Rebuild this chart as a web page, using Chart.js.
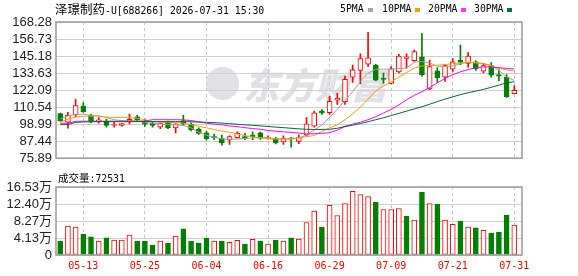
<!DOCTYPE html>
<html><head><meta charset="utf-8">
<script src="https://cdn.jsdelivr.net/npm/chart.js@4.4.1/dist/chart.umd.min.js"></script>
<style>
html,body{margin:0;padding:0;background:#fff;}
#wrap{position:relative;width:578px;height:276px;overflow:hidden;background:#fff;}
canvas{position:absolute;left:0;z-index:2;}
#c1{top:0;}
#c2{top:170px;}
.txt{position:absolute;white-space:nowrap;z-index:3;color:#000;}
.cjk{font-family:"Noto Sans CJK SC";}
.mono{font-family:"DejaVu Sans Mono";}
#title{left:55px;top:0px;line-height:18px;}
#title .cjk{font-size:12.5px;}
#title .mono{font-size:9.8px;}
.lg{position:absolute;top:0;line-height:18px;font-family:"DejaVu Sans Mono";font-size:9.8px;z-index:3;white-space:nowrap;}
.sq{position:absolute;top:8px;width:5px;height:4px;z-index:3;}
#vl{left:58px;top:169px;line-height:16px;}
#vl .cjk{font-size:10.5px;}
#vl .mono{font-size:9.8px;}
#wm{position:absolute;left:206px;top:60px;z-index:1;color:#e0e0e5;white-space:nowrap;}
#wm .logo{position:absolute;left:0;top:7px;width:33px;height:33px;border-radius:50%;background:#e0e0e5;}
#wm .wt{position:absolute;left:37px;top:0;font-family:"Noto Sans CJK SC";font-weight:900;font-style:italic;font-size:36px;line-height:46px;}
</style>
</head><body>
<div id="wrap">
  <div id="wm"><div class="logo"></div><div class="wt">东方财富</div></div>
  <canvas id="c1" width="578" height="170"></canvas>
  <canvas id="c2" width="578" height="106"></canvas>
  <div id="title" class="txt"><span class="cjk">泽璟制药</span><span class="mono">-U[688266] 2026-07-31 15:30</span></div>
  <div class="lg" style="left:340px">5PMA</div><div class="sq" style="left:368px;background:#a6a6a6"></div>
  <div class="lg" style="left:382px">10PMA</div><div class="sq" style="left:415px;background:#f5a000"></div>
  <div class="lg" style="left:428px">20PMA</div><div class="sq" style="left:461px;background:#ff33ff"></div>
  <div class="lg" style="left:474px">30PMA</div><div class="sq" style="left:507px;background:#00703c"></div>
  <div id="vl" class="txt"><span class="cjk">成交量</span><span class="mono" id="vlnum"></span></div>
</div>
<script>
const categories = ['05-08','05-11','05-12','05-13','05-14','05-15','05-18','05-19','05-20','05-21','05-22','05-25','05-26','05-27','05-28','05-29','06-01','06-02','06-03','06-04','06-05','06-08','06-09','06-10','06-11','06-12','06-15','06-16','06-17','06-18','06-22','06-23','06-24','06-25','06-26','06-29','06-30','07-01','07-02','07-03','07-06','07-07','07-08','07-09','07-10','07-13','07-14','07-15','07-16','07-17','07-20','07-21','07-22','07-23','07-24','07-27','07-28','07-29','07-30','07-31'];
const opens = [106.1,100.3,105.2,111.1,104.9,101.2,100.7,98.1,98.1,101.0,104.0,100.3,99.6,97.0,100.3,96.4,101.4,98.8,95.5,93.1,90.5,89.5,88.4,89.9,90.5,91.6,93.1,89.3,89.0,86.9,89.6,87.3,91.6,97.7,107.8,106.7,115.4,114.3,130.9,135.5,139.6,139.1,130.1,126.6,134.4,143.5,142.1,144.6,122.9,135.2,130.9,136.3,142.3,140.2,141.3,134.9,138.7,132.6,131.0,119.7];
const highs = [106.5,107.0,115.8,113.7,105.9,103.5,102.5,100.3,99.6,105.9,105.0,102.5,100.7,100.0,101.0,99.3,105.0,99.9,96.5,94.2,92.3,91.6,91.0,93.8,92.7,93.8,93.8,91.0,90.0,91.0,89.9,91.6,103.5,107.8,108.9,117.8,119.9,131.6,139.1,146.7,161.2,139.6,133.7,138.1,146.3,146.7,149.2,160.5,142.4,137.3,139.4,143.5,152.6,147.6,142.0,140.2,140.8,135.9,132.6,125.1];
const lows = [101.0,96.2,104.0,107.0,100.0,99.6,97.0,97.0,97.7,99.2,100.7,97.5,97.0,96.0,96.0,93.1,98.4,94.4,92.0,88.2,88.4,84.7,85.2,89.5,88.4,88.4,88.7,88.8,85.5,85.2,83.4,85.8,91.0,97.0,105.6,105.6,112.4,112.4,127.3,126.2,138.1,128.4,126.6,126.2,133.7,137.1,141.5,131.6,122.3,127.3,127.9,134.8,139.4,137.6,135.5,133.7,130.9,128.4,117.1,119.7];
const closes = [101.4,105.0,111.5,107.4,100.5,102.0,98.1,98.7,99.4,102.3,101.8,99.0,98.1,99.6,96.4,99.0,98.9,95.3,92.7,89.0,89.9,86.3,90.5,92.7,89.9,90.5,89.5,89.8,86.3,89.5,89.0,89.9,99.2,106.7,106.4,114.5,116.5,129.4,135.9,143.5,144.0,128.8,129.4,136.5,145.2,144.6,148.2,132.6,138.1,130.5,138.7,141.3,140.8,145.2,136.5,138.7,132.2,131.6,117.5,121.9];
const ma5 = [102.5,104.6,105.7,105.7,105.0,104.6,103.5,102.0,101.4,100.9,101.2,100.3,99.6,99.2,98.6,98.6,98.1,96.5,93.5,91.5,90.0,89.0,88.7,88.8,89.3,89.6,89.8,89.6,89.2,88.9,88.8,89.6,91.5,95.0,98.5,103.5,109.0,115.0,121.0,128.0,133.5,136.2,136.2,136.3,136.7,137.0,141.0,141.5,140.5,138.3,138.0,138.5,140.0,141.0,140.6,140.2,138.8,135.5,131.0,128.6];
const ma10 = [100.3,102.5,103.8,104.3,104.5,104.5,103.8,103.5,103.5,103.4,103.0,102.0,100.8,100.4,100.2,100.0,99.7,98.6,97.5,96.5,95.3,94.3,93.5,92.3,91.2,90.3,89.7,89.1,88.9,88.8,89.1,89.8,90.5,91.3,94.0,96.5,98.5,102.0,106.0,110.5,116.0,121.5,125.0,127.5,131.0,134.0,137.0,138.5,138.7,139.0,139.4,140.0,140.6,141.0,140.6,139.8,138.6,136.8,135.8,135.0];
const ma20 = [99.6,99.6,100.9,101.0,101.0,101.0,101.0,101.0,101.0,101.0,101.0,101.2,102.0,102.0,102.0,102.0,101.9,101.4,100.7,99.6,99.0,98.6,97.7,97.3,96.6,96.0,95.5,94.7,94.2,93.8,93.4,92.9,92.3,92.5,92.7,93.2,94.9,97.5,99.0,100.3,102.0,104.0,106.5,109.0,112.0,115.5,118.5,121.0,123.8,127.0,130.0,132.5,134.5,136.0,137.3,137.8,137.8,137.3,136.8,136.4];
const ma30 = [98.6,98.7,100.2,100.5,100.6,100.7,100.7,100.7,100.7,100.7,100.7,100.7,100.7,100.7,100.7,100.7,100.7,100.6,100.4,100.2,100.0,99.7,99.3,98.9,98.5,98.2,97.8,97.4,97.0,96.6,96.2,95.8,95.5,95.4,95.4,95.5,96.2,97.3,98.3,99.4,100.6,102.0,103.3,104.8,106.3,107.8,109.3,110.8,112.5,114.3,116.0,117.5,119.0,120.3,121.4,122.6,124.0,125.5,127.0,127.8];
const volumes = [3.39,7.02,6.78,5.08,4.43,3.39,4.19,3.63,3.63,4.84,3.39,3.39,2.42,3.39,2.90,4.60,6.37,3.39,2.90,4.11,3.39,3.39,3.07,3.55,2.66,3.79,3.39,2.66,3.63,3.39,4.19,3.87,7.91,10.65,6.78,12.1,9.6,12.5,15.5,14.7,14.2,12.8,11.06,11.06,11.3,9.44,8.47,15.3,12.5,12.3,8.47,7.43,8.23,6.78,6.61,5.97,5.32,5.57,9.68,7.2531];
const priceTicks = [75.89,87.44,98.99,110.54,122.09,133.63,145.18,156.73,168.28];
const volTickValues = [0,4.1325,8.265,12.3975,16.53];
const volTickLabels = ['0','4.13万','8.27万','12.40万','16.53万'];
const xTickLabels = ['05-13','05-25','06-04','06-16','06-29','07-09','07-21','07-31'];

const RED = '#ff0000', GREEN = '#008000';
const idx = categories.map((_, i) => i);
const xTickIdx = xTickLabels.map(l => categories.indexOf(l));
const up = idx.map(i => closes[i] >= opens[i]);
const volUp = idx.map(i => i === 0 ? up[0] : closes[i] >= closes[i - 1]);
document.getElementById('vlnum').textContent = ':' + Math.round(volumes[volumes.length - 1] * 10000);

const frame = {
  id: 'frame',
  afterDatasetsDraw(chart) {
    const {ctx, chartArea: a} = chart;
    ctx.save();
    ctx.strokeStyle = '#9a9a9a';
    ctx.lineWidth = 1.5;
    ctx.strokeRect(a.left, a.top, a.right - a.left, a.bottom - a.top);
    ctx.restore();
  }
};

const xScale = (showLabels) => ({
  type: 'linear', min: -0.55, max: 60, offset: false,
  afterBuildTicks: s => { s.ticks = xTickIdx.map(v => ({value: v})); },
  afterFit: s => { s.height = showLabels ? 21 : 0; },
  grid: {color: '#c8c8c8', lineWidth: 1, drawTicks: false, offset: false},
  border: {display: false, dash: [3, 3]},
  ticks: {display: showLabels, autoSkip: false, maxRotation: 0, padding: 5, color: RED,
          font: {family: 'DejaVu Sans Mono', size: 10},
          callback: v => categories[v]}
});

Chart.defaults.font.family = 'Liberation Sans';
const common = {responsive: false, animation: false, devicePixelRatio: 1, events: [],
  plugins: {legend: {display: false}, tooltip: {enabled: false}}};

const line = (data, color) => ({type: 'line', data: idx.map(i => ({x: i, y: data[i]})), borderColor: color,
  borderWidth: 1, pointRadius: 0, tension: 0, fill: false, order: 1});

new Chart(document.getElementById('c1'), {
  type: 'bar',
  data: {datasets: [
    {type: 'bar', data: idx.map(i => ({x: i, y: [lows[i], highs[i]]})), backgroundColor: idx.map(i => up[i] ? RED : GREEN),
     barThickness: 1, grouped: false, order: 5},
    {type: 'bar', data: idx.map(i => ({x: i, y: [opens[i], closes[i]]})), backgroundColor: idx.map(i => up[i] ? '#ffffff' : GREEN),
     borderColor: idx.map(i => up[i] ? RED : GREEN), borderWidth: 1, borderSkipped: false, barThickness: 5, minBarLength: 1,
     grouped: false, order: 4},
    line(ma30, '#006633'),
    line(ma20, '#ff00ff'),
    line(ma10, '#f5a000'),
    line(ma5, '#a0a0a0')
  ]},
  options: Object.assign({}, common, {
    layout: {padding: {left: 0, right: 56, top: 22, bottom: 6}},
    scales: {
      x: xScale(false),
      y: {type: 'linear', min: priceTicks[0], max: priceTicks[priceTicks.length - 1],
          afterBuildTicks: s => { s.ticks = priceTicks.map(v => ({value: v})); },
          afterFit: s => { s.width = 56; },
          grid: {color: '#d0d0d0', lineWidth: 1, drawTicks: false},
          border: {display: false},
          ticks: {padding: 4, color: '#222', font: {size: 13}, autoSkip: false,
                  callback: v => Number(v).toFixed(2)}}
    }
  }),
  plugins: [frame]
});

new Chart(document.getElementById('c2'), {
  type: 'bar',
  data: {datasets: [
    {type: 'bar', data: idx.map(i => ({x: i, y: volumes[i]})), backgroundColor: idx.map(i => volUp[i] ? '#ffffff' : GREEN),
     borderColor: idx.map(i => volUp[i] ? RED : GREEN), borderWidth: 1, borderSkipped: false, barThickness: 5, grouped: false}
  ]},
  options: Object.assign({}, common, {
    layout: {padding: {left: 0, right: 56, top: 17, bottom: 0}},
    scales: {
      x: xScale(true),
      y: {type: 'linear', min: 0, max: volTickValues[volTickValues.length - 1],
          afterBuildTicks: s => { s.ticks = volTickValues.map(v => ({value: v})); },
          afterFit: s => { s.width = 56; },
          grid: {color: '#d0d0d0', lineWidth: 1, drawTicks: false},
          border: {display: false},
          ticks: {padding: 4, color: '#222', font: {size: 13, family: 'Liberation Sans, Noto Sans CJK SC'}, autoSkip: false,
                  callback: (v, i) => volTickLabels[i]}}
    }
  }),
  plugins: [frame]
});
</script>
</body></html>
